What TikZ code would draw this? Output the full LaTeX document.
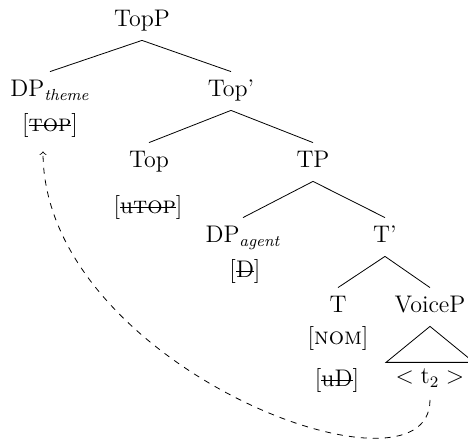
\documentclass[tikz,border=0pt]{standalone}
\usepackage{amssymb}
\usepackage{amsmath}
\usepackage{tikz}
\usetikzlibrary{calc}

\newcommand{\strikefeat}[1]{\setbox0=\hbox{#1}\rlap{\rule[0.27em]{\wd0}{0.5pt}}\box0}

\begin{document}
\begin{tikzpicture}[x=0.5pt,y=-0.5pt,
		cat/.style={font=\large,inner sep=4pt,text height=8.5pt,text depth=2.5pt,anchor=base},
		feat/.style={font=\large,inner sep=4pt,anchor=base}]
		\useasboundingbox (0,0) rectangle (468,444);

		% Phrase labels
		\node[cat] (topp) at (142,27) {TopP};
		\node[cat] (dptheme) at (50,97) {DP$_{\textit{theme}}$};
		\node[cat] (topbar) at (231,97) {Top'};
		\node[cat] (top) at (149,168) {Top};
		\node[cat] (tp) at (313,168) {TP};
		\node[cat] (dpagent) at (243,243) {DP$_{\textit{agent}}$};
		\node[cat] (tbar) at (385,243) {T'};
		\node[cat] (t) at (338,313) {T};
		\node[cat] (voicep) at (430,313) {VoiceP};

		% Features
		\node[feat] (ftop) at (50,132) {[\strikefeat{\textsc{top}}]};
		\node[feat] (futop) at (148,214) {[\strikefeat{u\textsc{top}}]};
		\node[feat] (fd) at (245,278) {[\strikefeat{D}]};
		\node[feat] (fnom) at (338,345) {[\textsc{nom}]};
		\node[feat] (fud) at (337,387) {[\strikefeat{uD}]};
		\node[feat] (trace) at (430,384) {$<\mathrm{t}_2>$};

		% Branches
		\draw (topp.south) -- (dptheme.north);
		\draw (topp.south) -- (topbar.north);
		\draw (topbar.south) -- (top.north);
		\draw (topbar.south) -- (tp.north);
		\draw (tp.south) -- (dpagent.north);
		\draw (tp.south) -- (tbar.north);
		\draw (tbar.south) -- (t.north);
		\draw (tbar.south) -- (voicep.north);

		% Triangle under VoiceP
		\draw (voicep.south) -- ++(-44,36) -- ++(88,0) -- cycle;

		% Movement of the theme
		\draw[->,dashed,shorten <=2pt,shorten >=2.5pt] (trace.south) .. controls +(0,115) and +(0,220) .. ([xshift=-3.5pt]ftop.south);
	\end{tikzpicture}
\end{document}
